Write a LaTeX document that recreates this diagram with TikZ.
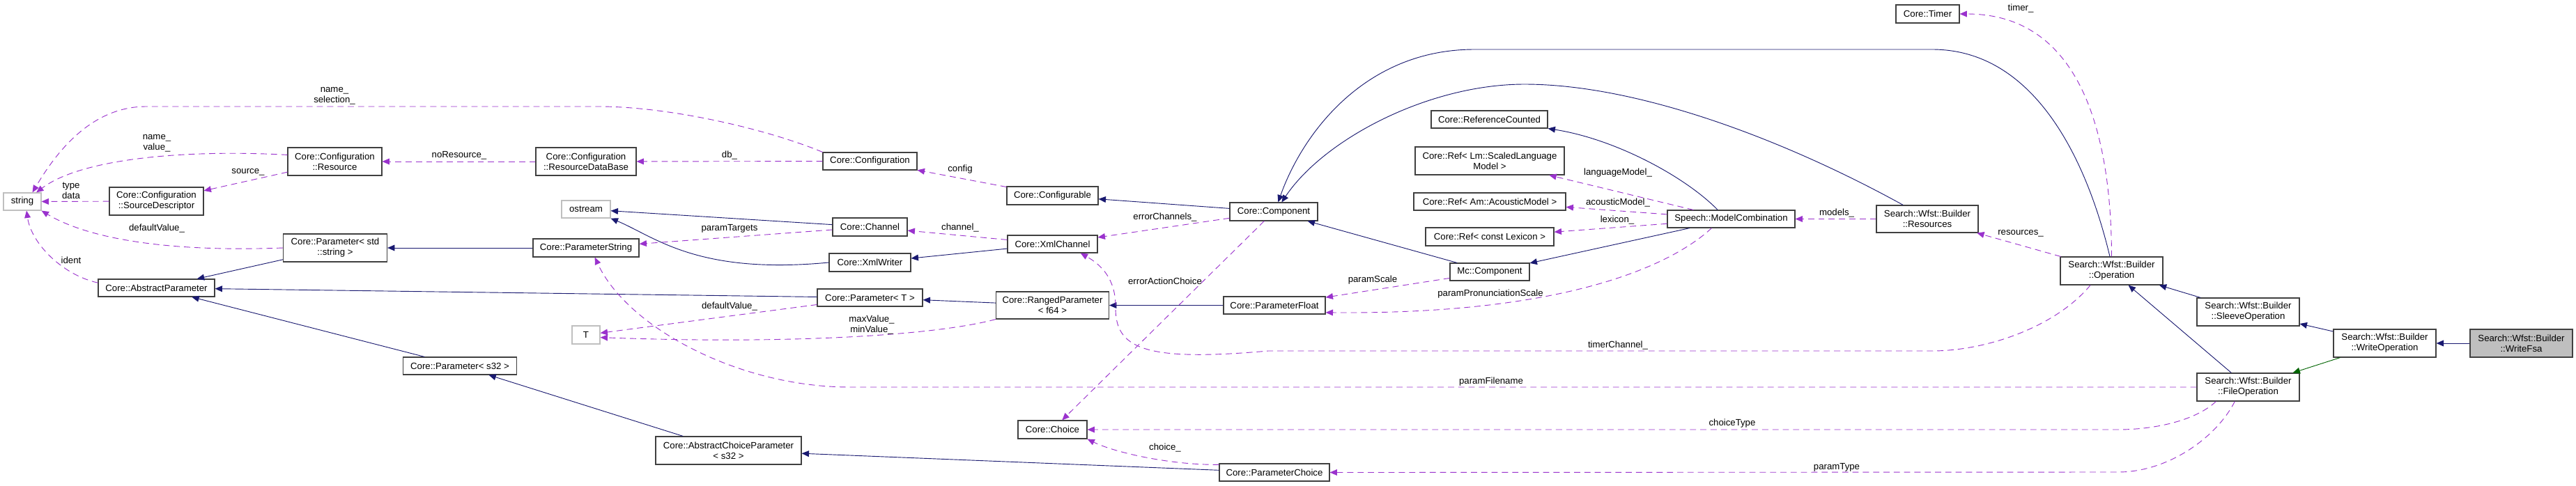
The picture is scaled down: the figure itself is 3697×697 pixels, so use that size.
\documentclass[tikz,border=0pt]{standalone}
\usepackage{fontspec}
\setmainfont{Liberation Sans}
\usetikzlibrary{arrows.meta}
\definecolor{inhcol}{HTML}{191970}
\definecolor{usecol}{HTML}{9A32CD}
\definecolor{tplcol}{HTML}{006400}
\definecolor{extcol}{HTML}{BFBFBF}
\begin{document}
\begin{tikzpicture}[
  x=0.25mm, y=-0.25mm,
  font=\fontsize{9.4}{10.7}\selectfont,
  cls/.style 2 args={draw=black!75, line width=0.8pt, fill=white, align=center, inner sep=0pt,
    minimum width=#1*0.25mm, minimum height=#2*0.25mm},
  ext/.style={draw=extcol},
  inh/.style={-{Triangle[length=2.6mm,width=2.2mm]}, draw=inhcol, fill=none, line width=0.65pt},
  usg/.style={-{Triangle[length=2.6mm,width=2.2mm]}, draw=usecol, line width=0.65pt, dash pattern=on 2.2mm off 1.5mm},
  lbl/.style={align=center, inner sep=0pt}
]
\fill[white] (0,0) rectangle (3697,697);
\useasboundingbox (0,0) rectangle (3697,697);

\node[cls={54}{25}, ext] (str) at (32,289.5) {string};
\node[cls={135}{40}] (res) at (480.5,232) {Core::Configuration\\::Resource};
\node[cls={135}{40}] (srcd) at (224.5,289) {Core::Configuration\\::SourceDescriptor};
\node[cls={149}{40}] (pstd) at (481,356) {Core::Parameter< std\\::string >};
\node[cls={167}{25}] (abspar) at (224.5,413.5) {Core::AbstractParameter};
\node[cls={163}{25}] (ps32) at (660,525.5) {Core::Parameter< s32 >};
\node[cls={144}{40}] (rdb) at (841,232) {Core::Configuration\\::ResourceDataBase};
\node[cls={70}{25}, ext] (ostr) at (841,300.5) {ostream};
\node[cls={152}{26}] (pstr) at (841,356) {Core::ParameterString};
\node[cls={40}{26}, ext] (tpar) at (841,481) {T};
\node[cls={209}{40}] (acp) at (1045.5,647) {Core::AbstractChoiceParameter\\< s32 >};
\node[cls={135}{25}] (conf) at (1248.5,231.5) {Core::Configuration};
\node[cls={107}{26}] (chan) at (1248.5,326) {Core::Channel};
\node[cls={117}{26}] (xmlw) at (1248.5,377) {Core::XmlWriter};
\node[cls={151}{25}] (pT) at (1248.5,427.5) {Core::Parameter< T >};
\node[cls={131}{26}] (cfgb) at (1510.5,281) {Core::Configurable};
\node[cls={129}{25}] (xmlc) at (1510.5,350.5) {Core::XmlChannel};
\node[cls={162}{39}] (rng) at (1510.5,438.5) {Core::RangedParameter\\< f64 >};
\node[cls={99}{26}] (choice) at (1510.5,617) {Core::Choice};
\node[cls={126}{26}] (comp) at (1828,304) {Core::Component};
\node[cls={146}{25}] (pflt) at (1829,438.5) {Core::ParameterFloat};
\node[cls={158}{25}] (pchoice) at (1829,678.5) {Core::ParameterChoice};
\node[cls={167}{25}] (refc) at (2137.5,171.5) {Core::ReferenceCounted};
\node[cls={214}{40}] (reflm) at (2138,231) {Core::Ref< Lm::ScaledLanguage\\Model >};
\node[cls={218}{25}] (refam) at (2138,289.5) {Core::Ref< Am::AcousticModel >};
\node[cls={184}{26}] (reflx) at (2138,340) {Core::Ref< const Lexicon >};
\node[cls={114}{25}] (mcc) at (2138,390.5) {Mc::Component};
\node[cls={183}{25}] (mcomb) at (2484.5,314.5) {Speech::ModelCombination};
\node[cls={91}{26}] (timer) at (2766.5,20) {Core::Timer};
\node[cls={146}{39}] (rsrc) at (2766,314.5) {Search::Wfst::Builder\\::Resources};
\node[cls={147}{40}] (oper) at (3030.5,389) {Search::Wfst::Builder\\::Operation};
\node[cls={147}{40}] (sleeve) at (3226.5,448) {Search::Wfst::Builder\\::SleeveOperation};
\node[cls={147}{40}] (fileop) at (3226.5,556) {Search::Wfst::Builder\\::FileOperation};
\node[cls={147}{40}] (writeop) at (3422.5,493) {Search::Wfst::Builder\\::WriteOperation};
\node[cls={147}{40}, fill=extcol] (wfsa) at (3618.5,493) {Search::Wfst::Builder\\::WriteFsa};

\draw[inh] (pstd) -- (abspar);
\draw[inh] (pT) -- (abspar);
\draw[inh] (ps32) -- (abspar);
\draw[inh] (acp) -- (ps32);
\draw[inh] (pchoice) -- (acp);
\draw[inh] (pstr) -- (pstd);
\draw[inh] (rng) -- (pT);
\draw[inh] (pflt) -- (rng);
\draw[inh] (chan) -- (ostr);
\draw[inh] (xmlw.west) .. controls (1000,395) and (940,340) .. (ostr.south east);
\draw[inh] (xmlc) -- (xmlw);
\draw[inh] (comp) -- (cfgb);
\draw[inh] (mcc) -- (comp);
\draw[inh] (mcomb) -- (mcc);
\draw[inh] (mcomb.146) .. controls (2420,255) and (2320,200) .. (refc.south east);
\draw[inh] (rsrc.150) .. controls (2560,200) and (2350,121) .. (2188,121) .. controls (2050,121) and (1900,200) .. (comp.50);
\draw[inh] (oper.97) .. controls (2995,230) and (2920,71) .. (2773,71) -- (2116,71) .. controls (1960,71) and (1870,190) .. (comp.65);
\draw[inh] (sleeve) -- (oper);
\draw[inh] (fileop) -- (oper);
\draw[inh] (writeop) -- (sleeve);
\draw[inh, draw=tplcol] (writeop) -- (fileop);
\draw[inh] (wfsa) -- (writeop);

\draw[usg] (conf.north west) .. controls (1100,185) and (960,153) .. (860,153) -- (210,153) .. controls (130,153) and (80,220) .. (str.42);
\draw[usg] (res.172) .. controls (280,215) and (120,225) .. (str.33);
\draw[usg] (srcd) -- (str);
\draw[usg] (res) -- (srcd);
\draw[usg] (pstd.west) .. controls (250,362) and (130,345) .. (str.south east);
\draw[usg] (abspar.175) .. controls (90,395) and (45,350) .. (str.-65);
\draw[usg] (rdb) -- (res);
\draw[usg] (conf) -- (rdb);
\draw[usg] (cfgb) -- (conf);
\draw[usg] (chan) -- (pstr);
\draw[usg] (xmlc) -- (chan);
\draw[usg] (comp) -- (xmlc);
\draw[usg] (comp) -- (choice);
\draw[usg] (pT) -- (tpar);
\draw[usg] (rng.south west) .. controls (1350,480) and (1150,495) .. (tpar.-10);
\draw[usg] (pchoice.172) .. controls (1680,668) and (1600,650) .. (choice.south east);
\draw[usg] (mcomb) -- (reflm);
\draw[usg] (mcomb) -- (refam);
\draw[usg] (mcomb) -- (reflx);
\draw[usg] (mcc) -- (pflt);
\draw[usg] (mcomb.-155) .. controls (2400,380) and (2250,452) .. (pflt.-8);
\draw[usg] (rsrc) -- (mcomb);
\draw[usg] (oper.north) .. controls (3030,180) and (2980,20) .. (timer.east);
\draw[usg] (oper) -- (rsrc);
\draw[usg] (oper.214) .. controls (2950,470) and (2850,504) .. (2773,504) -- (1820,504) .. controls (1640,520) and (1600,500) .. (1601,440) .. controls (1601,400) and (1580,380) .. (xmlc.-18);
\draw[usg] (fileop.west) -- (1220,556) .. controls (1060,556) and (900,470) .. (pstr.-47);
\draw[usg] (fileop.-156) .. controls (3150,605) and (3090,617) .. (3040,617) -- (choice.east);
\draw[usg] (fileop.-133) .. controls (3180,630) and (3110,678) .. (3040,678) -- (pchoice.east);

\node[lbl] (l1) at (480,138) {name\_\\selection\_};
\node[lbl] (l2) at (225,205.5) {name\_\\value\_};
\node[lbl] (l3) at (356,247) {source\_};
\node[lbl] (l4) at (102,274) {type\\data};
\node[lbl] (l5) at (225,328) {defaultValue\_};
\node[lbl] (l6) at (102,374) {ident};
\node[lbl] (l7) at (659,223) {noResource\_};
\node[lbl] (l8) at (1047,223) {db\_};
\node[lbl] (l9) at (1047,328) {paramTargets};
\node[lbl] (l10) at (1378,243) {config};
\node[lbl] (l11) at (1378,327) {channel\_};
\node[lbl] (l12) at (1672,312) {errorChannels\_};
\node[lbl] (l13) at (1047,440) {defaultValue\_};
\node[lbl] (l14) at (1251,466.5) {maxValue\_\\minValue\_};
\node[lbl] (l15) at (1672,404) {errorActionChoice};
\node[lbl] (l16) at (1672,643) {choice\_};
\node[lbl] (l17) at (2322,248) {languageModel\_};
\node[lbl] (l18) at (2322,291) {acousticModel\_};
\node[lbl] (l19) at (2321,316) {lexicon\_};
\node[lbl] (l20) at (1970,402) {paramScale};
\node[lbl] (l21) at (2139,422) {paramPronunciationScale};
\node[lbl] (l22) at (2636,306) {models\_};
\node[lbl] (l23) at (2900,12) {timer\_};
\node[lbl] (l24) at (2900,335) {resources\_};
\node[lbl] (l25) at (2322,496) {timerChannel\_};
\node[lbl] (l26) at (2140,548) {paramFilename};
\node[lbl] (l27) at (2486,608) {choiceType};
\node[lbl] (l28) at (2636,671) {paramType};
\end{tikzpicture}
\end{document}
